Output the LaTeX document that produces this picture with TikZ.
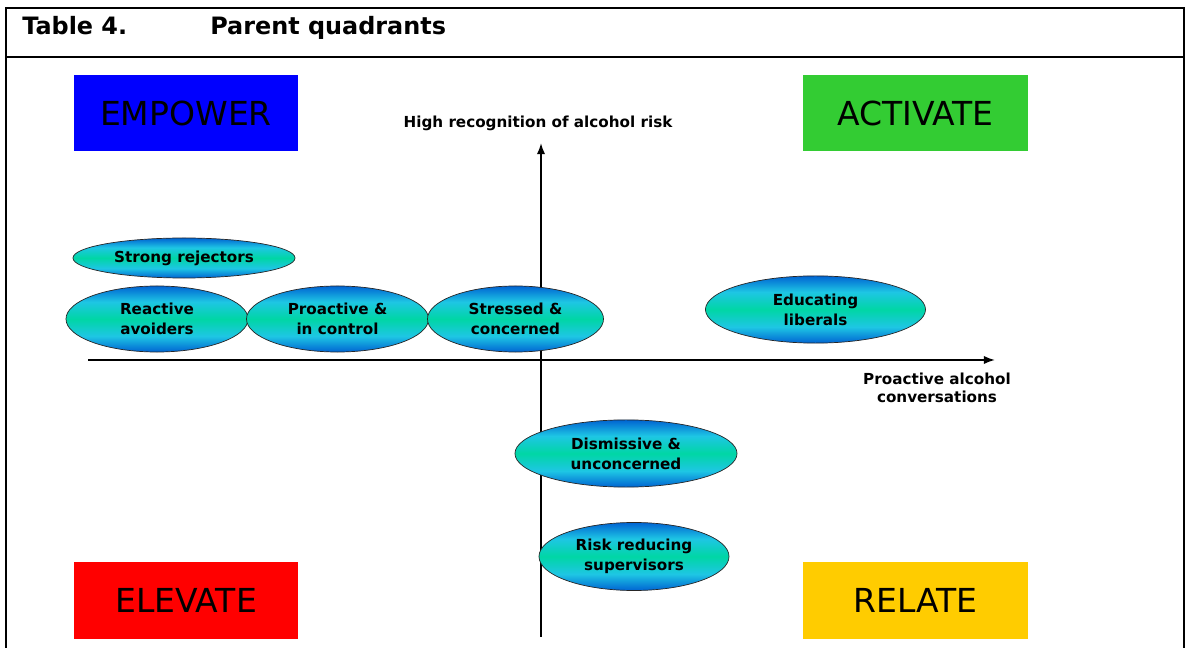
\documentclass[tikz,border=0pt]{standalone}
\usepackage{fontspec}
\setmainfont{DejaVu Sans}
\usetikzlibrary{arrows.meta,shapes.geometric}
\definecolor{EmpowerBlue}{RGB}{0,0,255}
\definecolor{ActivateGreen}{RGB}{51,204,51}
\definecolor{ElevateRed}{RGB}{255,0,0}
\definecolor{RelateYellow}{RGB}{255,204,0}
\definecolor{SegEdge}{RGB}{0,100,210}
\definecolor{SegCyan}{RGB}{30,198,228}
\definecolor{SegMid}{RGB}{0,214,165}
\pgfdeclareverticalshading{segshade}{100bp}{color(0bp)=(SegEdge); color(25bp)=(SegEdge);
  color(37bp)=(SegCyan); color(50bp)=(SegMid); color(63bp)=(SegCyan);
  color(75bp)=(SegEdge); color(100bp)=(SegEdge)}
\newcommand{\pqzone}[4]{\node[zone,fill=#4] (#1) at #2 {#3};}
\newcommand{\pqseg}[5]{\node[seg,minimum width=#4,minimum height=#5] (#1) at #2 {#3};}

\begin{document}
\begin{tikzpicture}[
  x=0.025cm, y=-0.025cm,
  frame/.style={line width=1.8pt, line cap=rect},
  axis/.style={line width=1.3pt, -{Latex[length=8pt,width=6pt]}},
  zone/.style={minimum width=5.6cm, minimum height=1.9cm, inner sep=0pt,
    font=\fontsize{23.5}{28}\selectfont},
  seg/.style={ellipse, draw=black!85, line width=0.5pt, shading=segshade,
    inner sep=0pt, align=center, font=\bfseries\fontsize{10.8}{14}\selectfont},
  axlabel/.style={align=center, font=\bfseries\fontsize{10.8}{13}\selectfont},
  heading/.style={anchor=base west, inner sep=0pt, font=\bfseries\fontsize{17}{20}\selectfont},
]
\useasboundingbox (0,0) rectangle (1186,648);

%% ── Table frame and title ────────────────────────────────────────────────
\draw[frame] (6,648) -- (6,8) -- (1184,8) -- (1184,648);
\draw[frame] (6,57) -- (1184,57);
\node[heading] (tabno) at (22,35) {Table 4.};
\node[heading] (title) at (210,35) {Parent quadrants};

%% ── Quadrant labels ──────────────────────────────────────────────────────
\pqzone{EMP}{(186,113)}{EMPOWER}{EmpowerBlue}
\pqzone{ACT}{(915.5,113)}{ACTIVATE}{ActivateGreen}
\pqzone{ELE}{(186,600.5)}{ELEVATE}{ElevateRed}
\pqzone{REL}{(915.5,600.5)}{RELATE}{RelateYellow}

%% ── Axes ─────────────────────────────────────────────────────────────────
\coordinate (ybot) at (541,637);
\coordinate (ytop) at (541,143);
\coordinate (xleft) at (88,360);
\coordinate (xright) at (995,360);
\draw[axis] (ybot) -- (ytop);
\draw[axis] (xleft) -- (xright);
\node[axlabel] (ylab) at (538,123) {High recognition of alcohol risk};
\node[axlabel] (xlab) at (937,388) {Proactive alcohol\\conversations};

%% ── Parent segments ──────────────────────────────────────────────────────
\pqseg{SR}{(184,258)}{Strong rejectors}{5.55cm}{1.0cm}
\pqseg{RA}{(157,319)}{Reactive\\avoiders}{4.55cm}{1.65cm}
\pqseg{PC}{(337.5,319)}{Proactive \&\\in control}{4.55cm}{1.65cm}
\pqseg{SC}{(515.5,319)}{Stressed \&\\concerned}{4.4cm}{1.65cm}
\pqseg{EL}{(815.5,309.5)}{Educating\\liberals}{5.5cm}{1.68cm}
\pqseg{DU}{(626,453.5)}{Dismissive \&\\unconcerned}{5.55cm}{1.68cm}
\pqseg{RS}{(634,556.5)}{Risk reducing\\supervisors}{4.75cm}{1.7cm}

\end{tikzpicture}
\end{document}
